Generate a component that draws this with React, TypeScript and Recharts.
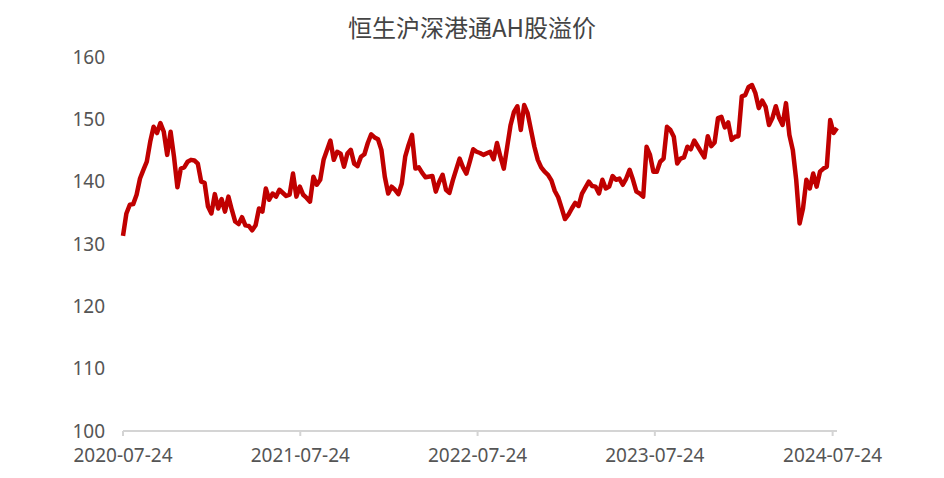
import { LineChart, Line, XAxis, YAxis } from "recharts";

const title = "恒生沪深港通AH股溢价";

const dates = [
  "2020-07-24", "2020-07-31", "2020-08-07", "2020-08-14", "2020-08-21", "2020-08-28", "2020-09-04", "2020-09-11",
  "2020-09-18", "2020-09-25", "2020-10-02", "2020-10-09", "2020-10-16", "2020-10-23", "2020-10-30", "2020-11-06",
  "2020-11-13", "2020-11-20", "2020-11-27", "2020-12-04", "2020-12-11", "2020-12-18", "2020-12-25", "2021-01-01",
  "2021-01-08", "2021-01-15", "2021-01-22", "2021-01-29", "2021-02-05", "2021-02-12", "2021-02-19", "2021-02-26",
  "2021-03-05", "2021-03-12", "2021-03-19", "2021-03-26", "2021-04-02", "2021-04-09", "2021-04-16", "2021-04-23",
  "2021-04-30", "2021-05-07", "2021-05-14", "2021-05-21", "2021-05-28", "2021-06-04", "2021-06-11", "2021-06-25",
  "2021-07-02", "2021-07-09", "2021-07-16", "2021-07-23", "2021-07-30", "2021-08-06", "2021-08-13", "2021-08-20",
  "2021-08-27", "2021-09-03", "2021-09-10", "2021-09-24", "2021-10-01", "2021-10-08", "2021-10-15", "2021-10-22",
  "2021-10-29", "2021-11-05", "2021-11-12", "2021-11-19", "2021-11-26", "2021-12-03", "2021-12-10", "2021-12-17",
  "2021-12-24", "2021-12-31", "2022-01-07", "2022-01-14", "2022-01-21", "2022-01-28", "2022-02-04", "2022-02-11",
  "2022-02-18", "2022-02-25", "2022-03-04", "2022-03-11", "2022-03-18", "2022-03-25", "2022-04-01", "2022-04-08",
  "2022-04-22", "2022-04-29", "2022-05-06", "2022-05-13", "2022-05-20", "2022-05-27", "2022-06-03", "2022-06-17",
  "2022-06-24", "2022-07-01", "2022-07-08", "2022-07-15", "2022-07-22", "2022-07-29", "2022-08-05", "2022-08-19",
  "2022-08-26", "2022-09-02", "2022-09-09", "2022-09-16", "2022-09-23", "2022-09-30", "2022-10-07", "2022-10-14",
  "2022-10-21", "2022-10-28", "2022-11-04", "2022-11-11", "2022-11-18", "2022-11-25", "2022-12-02", "2022-12-09",
  "2022-12-16", "2022-12-23", "2022-12-30", "2023-01-06", "2023-01-13", "2023-01-20", "2023-01-27", "2023-02-03",
  "2023-02-10", "2023-02-17", "2023-02-24", "2023-03-10", "2023-03-17", "2023-03-24", "2023-03-31", "2023-04-07",
  "2023-04-14", "2023-04-21", "2023-04-28", "2023-05-05", "2023-05-12", "2023-05-19", "2023-05-26", "2023-06-02",
  "2023-06-09", "2023-06-16", "2023-06-23", "2023-06-30", "2023-07-07", "2023-07-14", "2023-07-21", "2023-07-28",
  "2023-08-04", "2023-08-11", "2023-08-18", "2023-08-25", "2023-09-01", "2023-09-08", "2023-09-15", "2023-09-22",
  "2023-09-29", "2023-10-06", "2023-10-13", "2023-10-27", "2023-11-03", "2023-11-10", "2023-11-17", "2023-11-24",
  "2023-12-01", "2023-12-08", "2023-12-15", "2023-12-22", "2023-12-29", "2024-01-05", "2024-01-12", "2024-01-19",
  "2024-01-26", "2024-02-02", "2024-02-09", "2024-02-16", "2024-02-23", "2024-03-01", "2024-03-08", "2024-03-15",
  "2024-03-22", "2024-03-29", "2024-04-05", "2024-04-12", "2024-04-19", "2024-04-26", "2024-05-03", "2024-05-10",
  "2024-05-17", "2024-05-24", "2024-05-31", "2024-06-07", "2024-06-14", "2024-06-21", "2024-06-28", "2024-07-05",
  "2024-07-12", "2024-07-19", "2024-07-26", "2024-08-02",
];

const premium = [
  131.3, 134.9, 136.3, 136.4, 137.9, 140.5, 141.9, 143.2,
  146.4, 148.8, 147.8, 149.4, 148.0, 144.3, 148.0, 144.0,
  139.1, 142.1, 142.3, 143.2, 143.5, 143.4, 142.9, 140.0,
  139.8, 136.0, 134.9, 138.0, 135.7, 137.2, 135.2, 137.6,
  135.5, 133.6, 133.2, 134.3, 133.0, 132.9, 132.2, 133.0,
  135.7, 135.2, 138.9, 137.1, 138.1, 137.6, 138.7, 137.7,
  137.9, 141.3, 137.6, 139.2, 137.9, 137.4, 136.8, 140.8,
  139.5, 140.3, 143.5, 146.6, 143.5, 144.8, 144.5, 142.4,
  144.5, 145.1, 142.9, 142.5, 144.0, 144.4, 146.2, 147.6,
  147.1, 146.8, 145.1, 140.8, 138.1, 139.2, 138.7, 138.0,
  139.7, 144.0, 145.9, 147.5, 142.1, 142.3, 141.4, 140.7,
  140.9, 138.4, 140.0, 141.1, 138.7, 138.2, 140.2, 143.7,
  142.3, 141.3, 143.2, 145.2, 144.8, 144.6, 144.3, 144.8,
  143.6, 146.2, 144.0, 142.1, 145.6, 149.1, 151.2, 152.1,
  148.3, 152.3, 151.0, 148.3, 145.6, 143.5, 142.3, 141.6,
  141.1, 140.2, 138.5, 137.5, 135.8, 134.0, 134.7, 135.7,
  136.6, 136.1, 138.1, 140.0, 139.3, 139.2, 138.1, 140.3,
  138.9, 139.2, 140.9, 140.3, 140.5, 139.5, 140.5, 141.9,
  140.3, 138.4, 138.1, 137.6, 145.6, 144.3, 141.6, 141.6,
  143.2, 143.7, 148.8, 148.3, 147.2, 142.9, 143.7, 143.9,
  145.6, 145.2, 146.6, 144.8, 143.9, 147.3, 145.7, 146.3,
  150.2, 150.4, 148.7, 149.5, 146.7, 147.2, 147.3, 153.7,
  153.9, 155.2, 155.5, 154.2, 151.8, 153.0, 152.0, 149.1,
  150.2, 152.1, 150.2, 149.1, 152.6, 147.5, 145.1, 140.3,
  133.3, 135.7, 140.3, 138.9, 141.3, 139.2, 141.6, 142.1,
  142.4, 149.9, 147.8, 148.6,
];

const xTicks = ["2020-07-24", "2021-07-24", "2022-07-24", "2023-07-24", "2024-07-24"];
const yTicks = [100, 110, 120, 130, 140, 150, 160];

const data = dates.map((d, i) => ({ t: Date.parse(d), v: premium[i] }));

const fmtDate = (t: number) => new Date(t).toISOString().slice(0, 10);

const tickStyle = { fill: "#555", fontSize: 19, fontFamily: "'Noto Sans', sans-serif" };

export default function App() {
  return (
    <div style={{ position: "absolute", left: 0, top: 0, width: 944, height: 478, background: "#fff" }}>
      <div
        style={{
          position: "absolute",
          top: 12,
          left: 0,
          width: 944,
          textAlign: "center",
          fontSize: 24,
          lineHeight: "30px",
          color: "#444",
          fontFamily: "'Noto Sans CJK SC', 'Noto Sans', sans-serif",
        }}
      >
        {title}
      </div>
      <LineChart width={944} height={478} data={data} margin={{ top: 57, right: 107, left: 63, bottom: 17 }}>
        <XAxis
          dataKey="t"
          type="number"
          domain={["dataMin", "dataMax"]}
          ticks={xTicks.map((d) => Date.parse(d))}
          tickFormatter={fmtDate}
          tick={tickStyle}
          axisLine={{ stroke: "#d4d4d4", strokeWidth: 2 }}
          tickLine={{ stroke: "#d4d4d4", strokeWidth: 2 }}
          tickSize={5}
          tickMargin={13}
          height={30}
          interval={0}
        />
        <YAxis
          domain={[100, 160]}
          ticks={yTicks}
          tick={tickStyle}
          axisLine={false}
          tickLine={false}
          tickSize={0}
          tickMargin={18}
          width={60}
          interval={0}
        />
        <Line
          type="linear"
          dataKey="v"
          stroke="#c00000"
          strokeWidth={4.5}
          strokeLinejoin="round"
          dot={false}
          isAnimationActive={false}
        />
      </LineChart>
    </div>
  );
}
